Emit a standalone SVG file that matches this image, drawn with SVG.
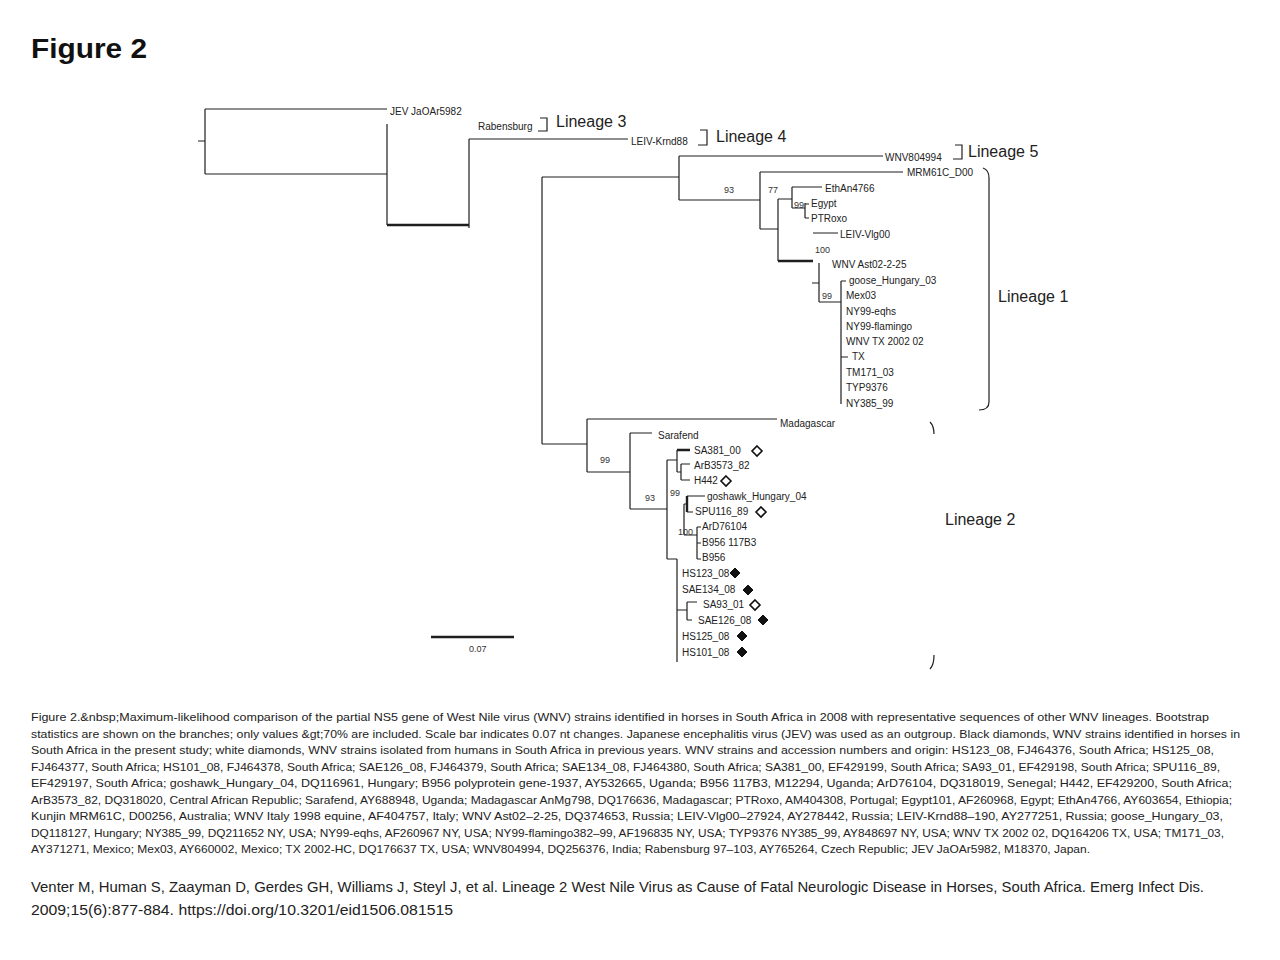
<svg xmlns="http://www.w3.org/2000/svg" width="1280" height="960" viewBox="0 0 1280 960">
<style>
.ln{stroke:#1e1e1e;stroke-width:1.2;fill:none}
.tk{stroke:#1e1e1e;stroke-width:2.4;fill:none}
.lab{font-family:"Liberation Sans",Arial,sans-serif;font-size:10px;fill:#222}
.bs{font-family:"Liberation Sans",Arial,sans-serif;font-size:9px;fill:#333}
.lin{font-family:"Liberation Sans",Arial,sans-serif;font-size:16px;fill:#222}
.cap{font-family:"Liberation Sans",Arial,sans-serif;font-size:10.5px;fill:#222}
.cit{font-family:"Liberation Sans",Arial,sans-serif;font-size:14.5px;fill:#222}
.wd{fill:#fff;stroke:#111;stroke-width:1.6}
.bd{fill:#111;stroke:#111;stroke-width:1}
</style>
<defs>
<path id="dm" d="M0,-5 L5,0 L0,5 L-5,0 Z"/>
</defs>
<rect width="1280" height="960" fill="#fff"/>
<text x="31" y="58" font-family="Liberation Sans, Arial, sans-serif" font-size="28" font-weight="bold" fill="#111" textLength="116" lengthAdjust="spacingAndGlyphs">Figure 2</text>

<g id="connectors">
<path class="ln" d="M198,141 H205 M205,109 V174 M205,109 H387 M205,174 H387 M387,124 V225 M469,139 V228 M469,139 H628"/>
<path class="tk" d="M387,225 H469"/>
<path class="ln" d="M542,177 V444 M542,177 H679 M679,156 V200 M679,156 H883 M679,200 H760 M760,172 V229 M760,172 H903 M760,229 H778 M778,199 V261 M778,199 H792 M792,187 V208 M792,187 H822 M792,208 H805 M805,203 V218 M805,204 H809 M805,218 H809 M813,233 H838"/>
<path class="tk" d="M778,261 H813"/>
<path class="ln" d="M812,283 H819 M819,263 V302 M819,302 H841 M841,281 V404 M841,281 H846 M841,357 H848"/>
<path class="ln" d="M542,444 H587 M587,419 V472 M587,419 H777 M587,472 H630 M630,433 V509 M630,433 H652 M630,509 H667 M667,460 V559 M667,460 H677 M677,450 V472 M677,472 H681 M681,464 V480 M681,464 H690 M681,480 H690"/>
<path class="tk" d="M677,450 H690 M687,496 V512"/>
<path class="ln" d="M687,496 H705 M687,512 H693 M684,504 V535 M684,504 H687 M684,535 H697 M697,527 V559 M697,527 H701 M697,543 H701 M697,559 H701 M667,559 H677 M677,559 V662 M677,610 H687 M687,602 V620 M687,602 H697 M687,620 H692"/>
<path class="ln" d="M540,118 H547 V131 H538 M700,130 H707 V145 H698 M955,145 H962 V159 H953"/>
<path class="ln" d="M983,168 Q989,170 989,178 V402 Q989,410 979,410"/>
<path class="ln" d="M930,422 Q934,426 934,434 M934,655 Q934,665 930,669"/>
<path class="tk" d="M431,637 H514"/>
</g>

<g id="bootstrap">
<text class="bs" x="724" y="193">93</text>
<text class="bs" x="768" y="193">77</text>
<text class="bs" x="794" y="208">99</text>
<text class="bs" x="815" y="253">100</text>
<text class="bs" x="822" y="299">99</text>
<text class="bs" x="600" y="463">99</text>
<text class="bs" x="645" y="501">93</text>
<text class="bs" x="670" y="496">99</text>
<text class="bs" x="678" y="535">100</text>
</g>

<g id="n-jev"><text class="lab" x="390" y="115">JEV JaOAr5982</text></g>
<g id="n-rabensburg"><text class="lab" x="478" y="130">Rabensburg</text></g>
<g id="n-leivkrnd"><text class="lab" x="631" y="145">LEIV-Krnd88</text></g>
<g id="n-wnv804994"><text class="lab" x="885" y="161">WNV804994</text></g>
<g id="n-mrm61c"><text class="lab" x="907" y="176">MRM61C_D00</text></g>
<g id="n-ethan"><text class="lab" x="825" y="192">EthAn4766</text></g>
<g id="n-egypt"><text class="lab" x="811" y="207">Egypt</text></g>
<g id="n-ptroxo"><text class="lab" x="811" y="222">PTRoxo</text></g>
<g id="n-leivvlg"><text class="lab" x="840" y="238">LEIV-Vlg00</text></g>
<g id="n-ast"><text class="lab" x="832" y="268">WNV Ast02-2-25</text></g>
<g id="n-goose"><text class="lab" x="849" y="284">goose_Hungary_03</text></g>
<g id="n-mex03"><text class="lab" x="846" y="299">Mex03</text></g>
<g id="n-eqhs"><text class="lab" x="846" y="315">NY99-eqhs</text></g>
<g id="n-flamingo"><text class="lab" x="846" y="330">NY99-flamingo</text></g>
<g id="n-wnvtx"><text class="lab" x="846" y="345">WNV TX 2002 02</text></g>
<g id="n-tx"><text class="lab" x="852" y="360">TX</text></g>
<g id="n-tm171"><text class="lab" x="846" y="376">TM171_03</text></g>
<g id="n-typ"><text class="lab" x="846" y="391">TYP9376</text></g>
<g id="n-ny385"><text class="lab" x="846" y="407">NY385_99</text></g>

<g id="n-madagascar"><text class="lab" x="780" y="427">Madagascar</text></g>
<g id="n-sarafend"><text class="lab" x="658" y="439">Sarafend</text></g>
<g id="n-sa381"><text class="lab" x="694" y="454">SA381_00</text><use href="#dm" x="757" y="451" class="wd"/></g>
<g id="n-arb"><text class="lab" x="694" y="469">ArB3573_82</text></g>
<g id="n-h442"><text class="lab" x="694" y="484">H442</text><use href="#dm" x="726" y="481" class="wd"/></g>
<g id="n-goshawk"><text class="lab" x="707" y="500">goshawk_Hungary_04</text></g>
<g id="n-spu"><text class="lab" x="695" y="515">SPU116_89</text><use href="#dm" x="761" y="512" class="wd"/></g>
<g id="n-ard"><text class="lab" x="702" y="530">ArD76104</text></g>
<g id="n-b956a"><text class="lab" x="702" y="546">B956 117B3</text></g>
<g id="n-b956"><text class="lab" x="702" y="561">B956</text></g>
<g id="n-hs123"><text class="lab" x="682" y="577">HS123_08</text><use href="#dm" x="735" y="573" class="bd"/></g>
<g id="n-sae134"><text class="lab" x="682" y="593">SAE134_08</text><use href="#dm" x="748" y="590" class="bd"/></g>
<g id="n-sa93"><text class="lab" x="703" y="608">SA93_01</text><use href="#dm" x="755" y="605" class="wd"/></g>
<g id="n-sae126"><text class="lab" x="698" y="624">SAE126_08</text><use href="#dm" x="763" y="620" class="bd"/></g>
<g id="n-hs125"><text class="lab" x="682" y="640">HS125_08</text><use href="#dm" x="742" y="636" class="bd"/></g>
<g id="n-hs101"><text class="lab" x="682" y="656">HS101_08</text><use href="#dm" x="742" y="652" class="bd"/></g>

<g id="lineages">
<text class="lin" x="556" y="127">Lineage 3</text>
<text class="lin" x="716" y="142">Lineage 4</text>
<text class="lin" x="968" y="157">Lineage 5</text>
<text class="lin" x="998" y="302">Lineage 1</text>
<text class="lin" x="945" y="525">Lineage 2</text>
</g>

<g id="scale"><text class="bs" x="469" y="652">0.07</text></g>

<g id="caption">
<text class="cap" x="31" y="721" textLength="1178" lengthAdjust="spacingAndGlyphs">Figure 2.&amp;nbsp;Maximum-likelihood comparison of the partial NS5 gene of West Nile virus (WNV) strains identified in horses in South Africa in 2008 with representative sequences of other WNV lineages. Bootstrap</text>
<text class="cap" x="31" y="737.5" textLength="1209" lengthAdjust="spacingAndGlyphs">statistics are shown on the branches; only values &amp;gt;70% are included. Scale bar indicates 0.07 nt changes. Japanese encephalitis virus (JEV) was used as an outgroup. Black diamonds, WNV strains identified in horses in</text>
<text class="cap" x="31" y="754" textLength="1183" lengthAdjust="spacingAndGlyphs">South Africa in the present study; white diamonds, WNV strains isolated from humans in South Africa in previous years. WNV strains and accession numbers and origin: HS123_08, FJ464376, South Africa; HS125_08,</text>
<text class="cap" x="31" y="770.5" textLength="1189" lengthAdjust="spacingAndGlyphs">FJ464377, South Africa; HS101_08, FJ464378, South Africa; SAE126_08, FJ464379, South Africa; SAE134_08, FJ464380, South Africa; SA381_00, EF429199, South Africa; SA93_01, EF429198, South Africa; SPU116_89,</text>
<text class="cap" x="31" y="787" textLength="1201" lengthAdjust="spacingAndGlyphs">EF429197, South Africa; goshawk_Hungary_04, DQ116961, Hungary; B956 polyprotein gene-1937, AY532665, Uganda; B956 117B3, M12294, Uganda; ArD76104, DQ318019, Senegal; H442, EF429200, South Africa;</text>
<text class="cap" x="31" y="803.5" textLength="1201" lengthAdjust="spacingAndGlyphs">ArB3573_82, DQ318020, Central African Republic; Sarafend, AY688948, Uganda; Madagascar AnMg798, DQ176636, Madagascar; PTRoxo, AM404308, Portugal; Egypt101, AF260968, Egypt; EthAn4766, AY603654, Ethiopia;</text>
<text class="cap" x="31" y="820" textLength="1192" lengthAdjust="spacingAndGlyphs">Kunjin MRM61C, D00256, Australia; WNV Italy 1998 equine, AF404757, Italy; WNV Ast02–2-25, DQ374653, Russia; LEIV-Vlg00–27924, AY278442, Russia; LEIV-Krnd88–190, AY277251, Russia; goose_Hungary_03,</text>
<text class="cap" x="31" y="836.5" textLength="1193" lengthAdjust="spacingAndGlyphs">DQ118127, Hungary; NY385_99, DQ211652 NY, USA; NY99-eqhs, AF260967 NY, USA; NY99-flamingo382–99, AF196835 NY, USA; TYP9376 NY385_99, AY848697 NY, USA; WNV TX 2002 02, DQ164206 TX, USA; TM171_03,</text>
<text class="cap" x="31" y="853" textLength="1059" lengthAdjust="spacingAndGlyphs">AY371271, Mexico; Mex03, AY660002, Mexico; TX 2002-HC, DQ176637 TX, USA; WNV804994, DQ256376, India; Rabensburg 97–103, AY765264, Czech Republic; JEV JaOAr5982, M18370, Japan.</text>
</g>

<g id="citation">
<text class="cit" x="31" y="892" textLength="1173" lengthAdjust="spacingAndGlyphs">Venter M, Human S, Zaayman D, Gerdes GH, Williams J, Steyl J, et al. Lineage 2 West Nile Virus as Cause of Fatal Neurologic Disease in Horses, South Africa. Emerg Infect Dis.</text>
<text class="cit" x="31" y="915" textLength="422" lengthAdjust="spacingAndGlyphs">2009;15(6):877-884. https://doi.org/10.3201/eid1506.081515</text>
</g>
</svg>
